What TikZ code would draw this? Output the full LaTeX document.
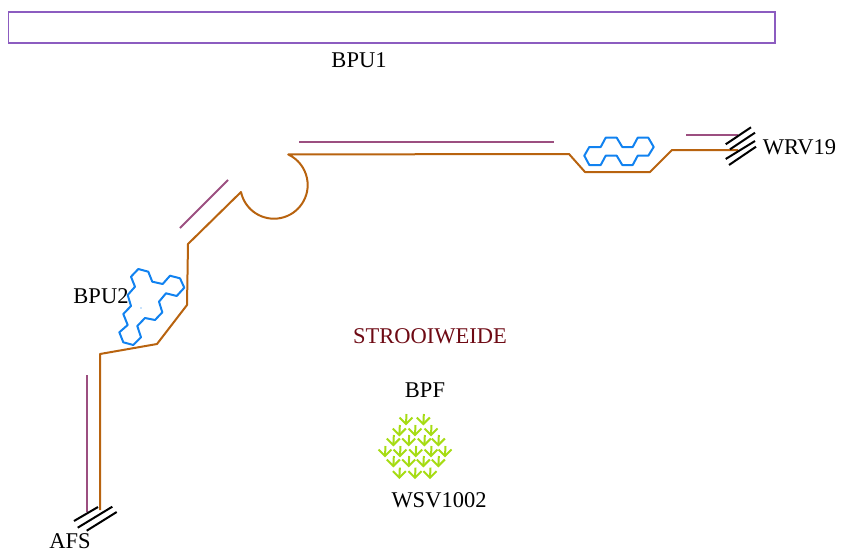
\documentclass[tikz,border=0pt]{standalone}
\usepackage{fontspec}
\setmainfont{Liberation Serif}
\definecolor{road}{HTML}{B8630F}
\definecolor{plum}{HTML}{9C4F80}
\definecolor{violetline}{HTML}{8C5CC0}
\definecolor{bluefig}{HTML}{1182F0}
\definecolor{grassc}{HTML}{A6DC14}
\definecolor{darkred}{HTML}{6E0A14}
\tikzset{
 x=1pt,y=-1pt,
 roadline/.style={draw=road,line width=2pt,line join=round},
 plumline/.style={draw=plum,line width=2pt},
 figline/.style={draw=bluefig,line width=2pt,line join=round},
 hatchline/.style={draw=black,line width=2pt},
 lab/.style={inner sep=0pt,font=\fontsize{22.5}{24}\selectfont},
 grassline/.style={draw=grassc,line width=2pt}
}
\begin{document}
\begin{tikzpicture}
\useasboundingbox (0,0) rectangle (842,554);
\draw[draw=violetline,line width=1.8pt] (8.5,12) rectangle (775,43);
\draw[plumline] (87,375) -- (87,512);
\draw[plumline] (180,228) -- (228,180);
\draw[plumline] (299,142) -- (554,142);
\draw[plumline] (686,135) -- (738,135);
\draw[roadline] (100,510) -- (100,354) -- (157,344) -- (187,305) -- (188,244) -- (241,192)
  arc[start angle=192,end angle=425,radius=33.7pt] -- (569,154) -- (585,172) -- (650,172) -- (672,150) -- (738,150);
\draw[figline] (138.3,269) -- (148.3,271.7) -- (152.3,281.7) -- (162.7,284) -- (170,275.7) -- (180,278.3) -- (184.3,287.7) -- (176.7,296) -- (166,293.3) -- (159,301.7) -- (162.3,312.3) -- (155,320) -- (145,318) -- (137.3,326) -- (141,337.3) -- (133.3,345) -- (123.3,342.3) -- (119.3,332.3) -- (127.7,325) -- (123.3,314) -- (131,306) -- (127.7,295) -- (135,286.7) -- (131,276.7) -- cycle;
\fill[bluefig] (141,308) circle (0.7pt);
\draw[figline] (584.3,155.7) -- (589.3,147) -- (600.7,147) -- (605.7,137.7) -- (616.7,137.7) -- (622.3,147) -- (632.7,147) -- (637.7,137.7) -- (648.3,137.7) -- (653.7,147) -- (648.3,155.7) -- (637.7,155.7) -- (632.7,165) -- (622.3,165) -- (616.7,155.7) -- (605.7,155.7) -- (600.7,165) -- (589.3,165) -- cycle;
\draw[hatchline] (725.7,144.3) -- (751,127.3);
\draw[hatchline] (730,149.3) -- (755,132.7);
\draw[hatchline] (725.7,159) -- (755,141);
\draw[hatchline] (729,165) -- (756,146.7);
\draw[hatchline] (74,521) -- (98,507);
\draw[hatchline] (77.7,527.7) -- (112.3,506.7);
\draw[hatchline] (86.7,530.7) -- (116.7,512);
\foreach \zx/\zy in {108/57,160/57,88/90,135/90,183/90,70/120,116/120,163/120,205/120,45/153,90/153,137/153,183/153,225/153,70/183,116/183,160/183,205/183,88/218,135/218,180/218}{
  \pgfmathsetmacro{\px}{370+\zx/3}
  \pgfmathsetmacro{\py}{405+\zy/3}
  \draw[grassline] (\px-6.5,\py-6.5) -- (\px,\py) -- (\px+6.5,\py-6.5);
  \draw[grassline] (\px,\py) -- (\px+0.5,\py-10);
}
\node[lab] (bpu1) at (359,60.5) {BPU1};
\node[lab] (bpu2) at (101,296) {BPU2};
\node[lab,text=darkred] (strooi) at (430,336) {STROOIWEIDE};
\node[lab] (bpf) at (425,390) {BPF};
\node[lab] (wsv) at (439,500) {WSV1002};
\node[lab] (afs) at (70,541) {AFS};
\node[lab] (wrv) at (799.5,147) {WRV19};
\end{tikzpicture}
\end{document}
